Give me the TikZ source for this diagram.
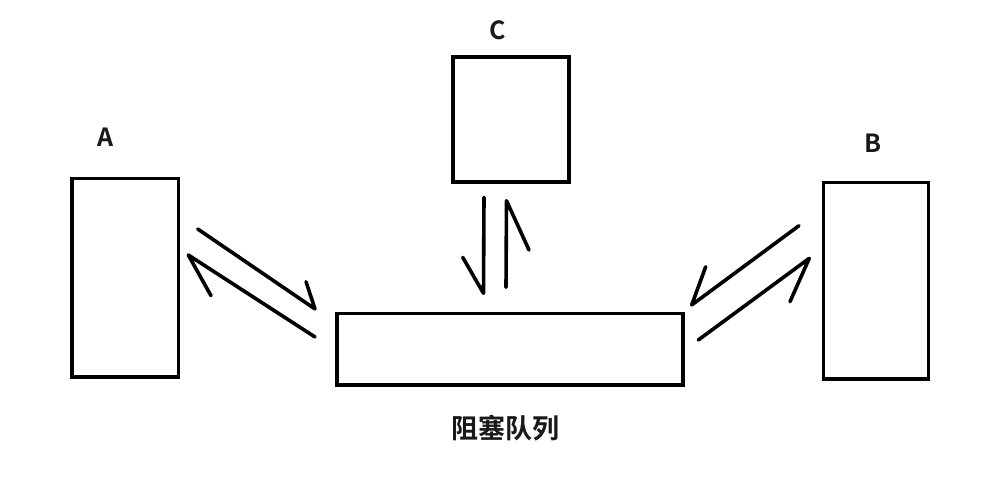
\documentclass[tikz,border=0pt]{standalone}
\usepackage{fontspec}
\newfontfamily\cjk{Noto Sans CJK SC}[BoldFont={* Bold}]
\begin{document}
\begin{tikzpicture}[x=1pt,y=-1pt,
  box/.style={draw=black,line width=3.6pt},
  conn/.style={line width=3.6pt,line cap=round,line join=round},
  lbl/.style={font=\cjk\bfseries\fontsize{25}{25}\selectfont,text=black!90}]
\useasboundingbox[fill=white] (0,0) rectangle (1002,500);
\draw[box] (71.7,178.7) rectangle (178.3,376.7);
\draw[box] (452.7,57.3) rectangle (568.7,182.3);
\draw[box] (823.3,182.7) rectangle (928.3,379);
\draw[box] (337,313.3) rectangle (683,384.7);
\node[lbl] (la) at (105.7,137.3) {A};
\node[lbl] (lc) at (497.3,30.7) {C};
\node[lbl] (lb) at (872.7,143.3) {B};
\node[lbl,font=\cjk\bfseries\fontsize{27}{27}\selectfont] (lq) at (505,428) {阻塞队列};
% A side
\coordinate (a1s) at (197.7,229); \coordinate (a1t) at (315,309); \coordinate (a1b) at (306,281.7);
\coordinate (a2s) at (315,337); \coordinate (a2t) at (188.3,255); \coordinate (a2b) at (211,295.7);
\draw[conn] (a1s) -- (a1t) -- (a1b);
\draw[conn] (a2s) -- (a2t) -- (a2b);
% C side
\coordinate (c1s) at (484,197.3); \coordinate (c1t) at (483.5,293.3); \coordinate (c1b) at (462.7,257.3);
\coordinate (c2s) at (506,287.3); \coordinate (c2t) at (506.5,200.7); \coordinate (c2b) at (529,250);
\draw[conn] (c1s) -- (c1t) -- (c1b);
\draw[conn] (c2s) -- (c2t) -- (c2b);
% B side
\coordinate (b1s) at (799,225.7); \coordinate (b1t) at (691.7,305); \coordinate (b1b) at (705.7,266.7);
\coordinate (b2s) at (698.3,340); \coordinate (b2t) at (809.3,258.3); \coordinate (b2b) at (790,301.7);
\draw[conn] (b1s) -- (b1t) -- (b1b);
\draw[conn] (b2s) -- (b2t) -- (b2b);
\end{tikzpicture}
\end{document}
